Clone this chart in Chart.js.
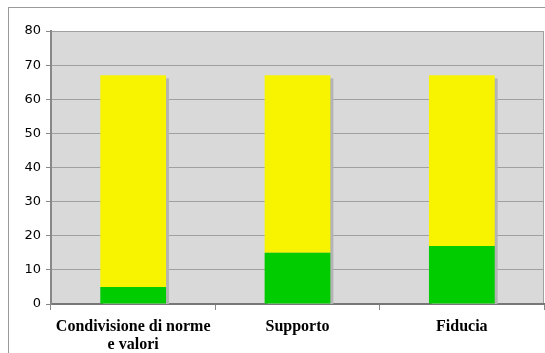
<!DOCTYPE html>
<html>
<head>
<meta charset="utf-8">
<script src="https://cdn.jsdelivr.net/npm/chart.js@4"></script>
<style>
  html, body { margin: 0; padding: 0; background: #fff; }
  #wrap { position: relative; width: 545px; height: 353px; }
  #frame { position: absolute; left: 8px; top: 7px; right: 0; bottom: 0;
           border-left: 1px solid #9a9a9a; border-top: 1px solid #9a9a9a; }
  canvas { position: absolute; left: 0; top: 0; }
</style>
</head>
<body>
<div id="wrap">
  <div id="frame"></div>
  <canvas id="barChart" width="545" height="353"></canvas>
</div>
<script>
// data
const categories = [['Condivisione di norme', 'e valori'], 'Supporto', 'Fiducia'];
const greenValues = [5, 15, 17];
const yellowValues = [62, 52, 50];
const yMin = 0, yMax = 80, yStep = 10;

// grey plot background + right border
const plotBackground = {
  id: 'plotBackground',
  beforeDraw(chart) {
    const { ctx, chartArea: a } = chart;
    ctx.save();
    ctx.fillStyle = '#d9d9d9';
    ctx.fillRect(a.left, a.top, a.right - a.left, a.bottom - a.top);
    ctx.strokeStyle = '#a0a0a0';
    ctx.lineWidth = 1;
    ctx.beginPath();
    ctx.moveTo(a.right - 0.5, a.top);
    ctx.lineTo(a.right - 0.5, a.bottom);
    ctx.stroke();
    ctx.restore();
  }
};

// drop shadow to the right of each stacked bar
const barShadow = {
  id: 'barShadow',
  beforeDatasetsDraw(chart) {
    const { ctx, chartArea: a } = chart;
    const top = chart.getDatasetMeta(chart.data.datasets.length - 1).data;
    ctx.save();
    ctx.fillStyle = '#b4b4b4';
    top.forEach(bar => {
      const p = bar.getProps(['x', 'y', 'base', 'width'], true);
      ctx.fillRect(p.x - p.width / 2 + 3, p.y + 3, p.width, a.bottom - p.y - 3);
    });
    ctx.restore();
  }
};

new Chart(document.getElementById('barChart').getContext('2d'), {
  type: 'bar',
  data: {
    labels: categories,
    datasets: [
      { data: greenValues, backgroundColor: '#00cc00', barPercentage: 0.8, categoryPercentage: 0.5 },
      { data: yellowValues, backgroundColor: '#f8f400', barPercentage: 0.8, categoryPercentage: 0.5 }
    ]
  },
  options: {
    responsive: false,
    animation: false,
    layout: { padding: { left: 0, top: 31, right: 1, bottom: 0 } },
    plugins: { legend: { display: false }, tooltip: { enabled: false } },
    scales: {
      x: {
        stacked: true,
        afterFit: s => { s.height = 49; },
        grid: { offset: true, drawOnChartArea: false, color: '#888', tickLength: 6 },
        border: { color: '#777', width: 2 },
        ticks: {
          color: '#000',
          padding: 8,
          maxRotation: 0,
          font: { family: 'Liberation Serif', size: 16, weight: 'bold', lineHeight: 1.12 }
        }
      },
      y: {
        stacked: true,
        min: yMin,
        max: yMax,
        afterFit: s => { s.width = 51; },
        grid: { color: '#a0a0a0', tickLength: 5, tickColor: '#888' },
        border: { color: '#888', width: 2 },
        ticks: {
          stepSize: yStep,
          color: '#000',
          padding: 5,
          font: { family: 'DejaVu Sans', size: 13 }
        }
      }
    }
  },
  plugins: [plotBackground, barShadow]
});
</script>
</body>
</html>
